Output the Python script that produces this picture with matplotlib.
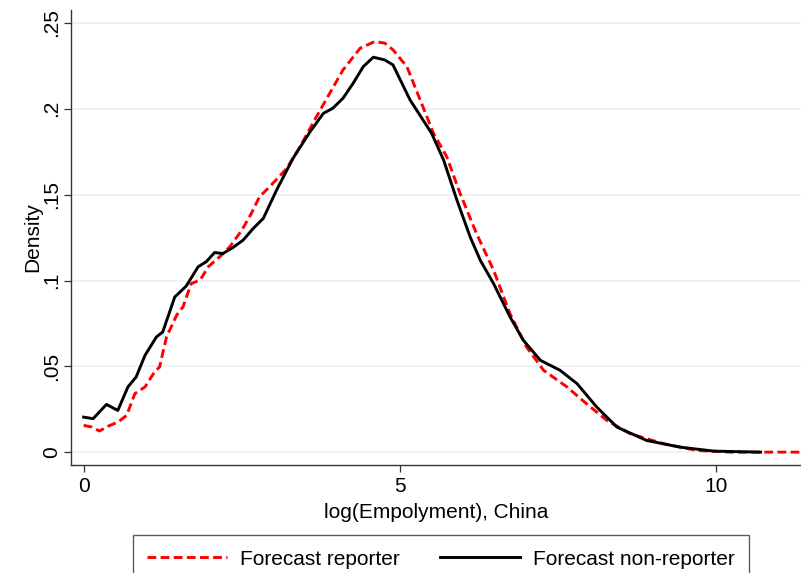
import matplotlib.pyplot as plt
import numpy as np

plt.rcParams.update({'font.family': ['Liberation Sans', 'DejaVu Sans'],
                     'font.size': 15})

# kernel density estimates
x_rep = [0.0, 0.13, 0.25, 0.38, 0.54, 0.68, 0.81, 0.97, 1.12, 1.20, 1.31, 1.47,
         1.57, 1.70, 1.84, 1.97, 2.15, 2.31, 2.50, 2.65, 2.78, 2.94, 3.21, 3.42,
         3.68, 3.89, 4.10, 4.37, 4.60, 4.76, 4.89, 5.11, 5.32, 5.53, 5.74, 5.95,
         6.21, 6.48, 6.74, 7.00, 7.27, 7.64, 7.95, 8.27, 8.64, 9.17, 9.69, 10.22,
         11.4]
y_rep = [0.0156, 0.0146, 0.0123, 0.0150, 0.0175, 0.0214, 0.0341, 0.0380, 0.0467,
         0.0496, 0.0671, 0.0798, 0.0846, 0.0982, 0.1002, 0.1080, 0.1138, 0.1196,
         0.1293, 0.1390, 0.1488, 0.1546, 0.1653, 0.1779, 0.1954, 0.2091, 0.2227,
         0.2353, 0.2392, 0.2383, 0.2344, 0.2246, 0.2052, 0.1858, 0.1721, 0.1508,
         0.1274, 0.1060, 0.0807, 0.0613, 0.0477, 0.0380, 0.0282, 0.0185, 0.0107,
         0.0049, 0.0010, 0.0, 0.0]

x_non = [0.0, 0.15, 0.36, 0.54, 0.70, 0.83, 0.97, 1.15, 1.25, 1.44, 1.62, 1.81,
         1.94, 2.07, 2.20, 2.36, 2.52, 2.68, 2.84, 3.05, 3.31, 3.58, 3.79, 3.94,
         4.10, 4.26, 4.42, 4.58, 4.76, 4.89, 5.16, 5.50, 5.69, 5.90, 6.11, 6.27,
         6.48, 6.74, 6.95, 7.22, 7.53, 7.80, 8.11, 8.43, 8.90, 9.43, 9.96, 10.70]
y_non = [0.0204, 0.0195, 0.0278, 0.0243, 0.0380, 0.0438, 0.0564, 0.0671, 0.0700,
         0.0904, 0.0967, 0.1080, 0.1110, 0.1163, 0.1157, 0.1192, 0.1235, 0.1303,
         0.1362, 0.1527, 0.1712, 0.1867, 0.1974, 0.2004, 0.2062, 0.2149, 0.2246,
         0.2301, 0.2285, 0.2256, 0.2052, 0.1858, 0.1702, 0.1469, 0.1254, 0.1118,
         0.0982, 0.0788, 0.0652, 0.0535, 0.0477, 0.0399, 0.0263, 0.0146, 0.0068,
         0.0029, 0.0006, 0.0]

y_ticks = [0, 0.05, 0.1, 0.15, 0.2, 0.25]
y_labels = ['0', '.05', '.1', '.15', '.2', '.25']
x_ticks = [0, 5, 10]

fig = plt.figure(figsize=(8.01, 5.73), dpi=100)
ax = fig.add_axes([71 / 801, 1 - 464.5 / 573, 1 - 71 / 801, (464.5 - 10) / 573])

for yt in y_ticks:
    ax.axhline(yt, color='#eaf2f3', lw=1.3, zorder=0)

ax.plot(x_rep, y_rep, color='#ff0000', lw=2.1, ls=(0, (3, 1.5)), label='Forecast reporter', zorder=2)
ax.plot(x_non, y_non, color='black', lw=2.1, label='Forecast non-reporter', zorder=3)

ax.set_xlim(-0.2, 11.34)
ax.set_ylim(-0.0072, 0.2576)
ax.set_yticks(y_ticks)
ax.set_yticklabels(y_labels, rotation=90, va='center')
ax.set_xticks(x_ticks)

for s in ['top', 'right']:
    ax.spines[s].set_visible(False)
for s in ['left', 'bottom']:
    ax.spines[s].set_color('#333333')
    ax.spines[s].set_linewidth(1.0)
ax.tick_params(axis='both', direction='out', length=5, width=0.9, color='#333333', labelsize=15)
ax.tick_params(axis='x', pad=4)
ax.tick_params(axis='y', pad=2)

ax.set_xlabel('log(Empolyment), China', fontsize=15, labelpad=5)
ax.set_ylabel('Density', fontsize=15, labelpad=0)

leg = fig.legend(loc='upper center', bbox_to_anchor=(441 / 801, 1 - 535 / 573), ncol=2,
                 frameon=True, fancybox=False, edgecolor='#333333', fontsize=15,
                 handlelength=3.85, columnspacing=1.9, handletextpad=0.63,
                 borderpad=0.7, borderaxespad=0)
leg.get_frame().set_linewidth(1.0)

fig.savefig('out.png', dpi=100)
